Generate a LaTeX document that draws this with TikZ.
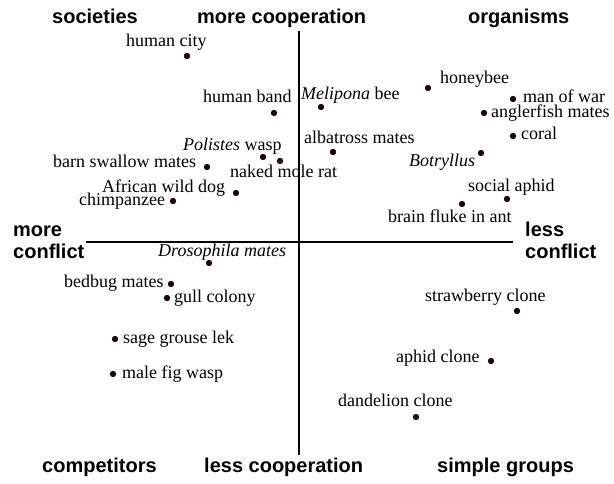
\documentclass[tikz,border=0pt]{standalone}
\usepackage{fontspec}
\setmainfont{Liberation Serif}
\setsansfont{Liberation Sans}
\definecolor{dotcol}{RGB}{28,8,8}
\tikzset{
  spot/.style={circle,fill=dotcol,inner sep=0pt,minimum size=6.4pt},
  lab/.style={anchor=west,inner sep=0pt,text height=12.6pt,text depth=3.6pt,
              font=\fontsize{18}{20}\selectfont},
  head/.style={anchor=west,inner sep=0pt,text height=14pt,text depth=4pt,
               font=\fontsize{20}{22}\selectfont\sffamily\bfseries},
  axis/.style={line width=2pt}
}
\begin{document}
\begin{tikzpicture}[x=1pt,y=-1pt]
\useasboundingbox (0,0) rectangle (614,483);

% axes
\coordinate (ctop) at (299,31);
\coordinate (cbot) at (299,455);
\coordinate (cleft) at (86,242);
\coordinate (cright) at (513,242);
\draw[axis] (ctop) -- (cbot);
\draw[axis] (cleft) -- (cright);

% quadrant and axis headings
\node[head] (societies) at (52,18) {societies};
\node[head] (morecoop) at (197,18) {more cooperation};
\node[head] (organisms) at (468,18) {organisms};
\node[head] (moreA) at (13,231) {more};
\node[head] (moreB) at (13,253) {conflict};
\node[head] (lessA) at (525,231) {less};
\node[head] (lessB) at (525,253) {conflict};
\node[head] (competitors) at (42,467) {competitors};
\node[head] (lesscoop) at (204,467) {less cooperation};
\node[head] (simple) at (437,467) {simple groups};

% data points
\node[spot] (city) at (187,56) {};
\node[spot] (band) at (274,113) {};
\node[spot] (melipona) at (321,107) {};
\node[spot] (honeybee) at (428,88) {};
\node[spot] (manofwar) at (513,99) {};
\node[spot] (angler) at (484,113) {};
\node[spot] (coral) at (513,136) {};
\node[spot] (albatross) at (333,152) {};
\node[spot] (polistes) at (263,157) {};
\node[spot] (molerat) at (280,161) {};
\node[spot] (swallow) at (207,167) {};
\node[spot] (botryllus) at (481,153) {};
\node[spot] (socaphid) at (507,199) {};
\node[spot] (wilddog) at (236,193) {};
\node[spot] (chimp) at (173,201) {};
\node[spot] (fluke) at (462,204) {};
\node[spot] (drosophila) at (209,263) {};
\node[spot] (bedbug) at (171,284) {};
\node[spot] (gull) at (167,298) {};
\node[spot] (strawberry) at (517,311) {};
\node[spot] (aphidclone) at (491,361) {};
\node[spot] (sagegrouse) at (115,339) {};
\node[spot] (figwasp) at (113,374) {};
\node[spot] (dandelion) at (416,417) {};

% point labels
\node[lab] (tcity) at (126,42) {human city};
\node[lab] (tband) at (203,98) {human band};
\node[lab] (tmelipona) at (301,95) {\textit{Melipona} bee};
\node[lab] (thoneybee) at (440,79) {honeybee};
\node[lab] (tmanofwar) at (523,98) {man of war};
\node[lab] (tangler) at (491,113) {anglerfish mates};
\node[lab] (tcoral) at (521,135) {coral};
\node[lab] (talbatross) at (304,139) {albatross mates};
\node[lab] (tpolistes) at (183,146) {\textit{Polistes} wasp};
\node[lab] (tswallow) at (53,163) {barn swallow mates};
\node[lab] (tbotryllus) at (409,162) {\textit{Botryllus}};
\node[lab] (tmolerat) at (230,173) {naked mole rat};
\node[lab] (tsocaphid) at (468,187) {social aphid};
\node[lab] (twilddog) at (102,188) {African wild dog};
\node[lab] (tchimp) at (79,201) {chimpanzee};
\node[lab] (tfluke) at (388,218) {brain fluke in ant};
\node[lab] (tdrosophila) at (158,252) {\textit{Drosophila mates}};
\node[lab] (tbedbug) at (64,283) {bedbug mates};
\node[lab] (tgull) at (174,298) {gull colony};
\node[lab] (tstrawberry) at (425,297) {strawberry clone};
\node[lab] (tsagegrouse) at (123,339) {sage grouse lek};
\node[lab] (taphidclone) at (396,358) {aphid clone};
\node[lab] (tfigwasp) at (122,374) {male fig wasp};
\node[lab] (tdandelion) at (338,402) {dandelion clone};
\end{tikzpicture}
\end{document}
